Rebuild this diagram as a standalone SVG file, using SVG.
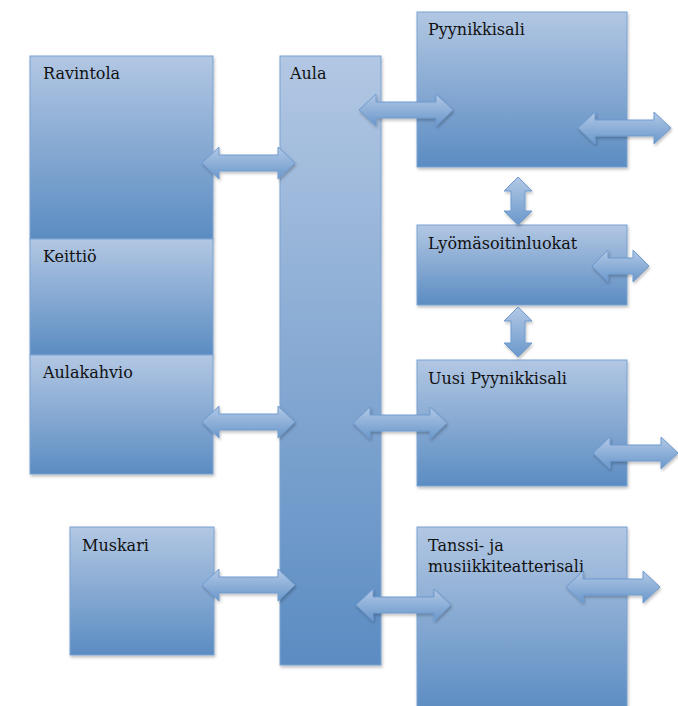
<svg xmlns="http://www.w3.org/2000/svg" width="678" height="706" viewBox="0 0 678 706">
<style>
.box{fill:url(#bg);stroke:#7aa2d2;stroke-width:1;filter:url(#sh)}
.arr{fill:url(#ag);stroke:#6f9bd0;stroke-width:1;stroke-linejoin:miter;filter:url(#sh)}
.lbl{font-family:"DejaVu Serif","Liberation Serif",serif;font-size:16px;fill:#111}
</style>
<defs>
<linearGradient id="bg" x1="0" y1="0" x2="0" y2="1">
<stop offset="0" stop-color="#b2c7e3"/>
<stop offset="1" stop-color="#5b8cc2"/>
</linearGradient>
<linearGradient id="ag" x1="0" y1="0" x2="0" y2="1">
<stop offset="0" stop-color="#b2c8e5"/>
<stop offset="1" stop-color="#6a98cb"/>
</linearGradient>
<filter id="sh" x="-10%" y="-10%" width="120%" height="120%">
<feDropShadow dx="1" dy="2" stdDeviation="1.5" flood-color="#000" flood-opacity="0.25"/>
</filter>
</defs>
<rect width="678" height="706" fill="#fff"/>
<g id="ravintola"><rect class="box" x="30" y="56" width="183" height="183"/><text class="lbl" x="43" y="79">Ravintola</text></g>
<g id="keittio"><rect class="box" x="30" y="239" width="183" height="116"/><text class="lbl" x="43" y="262">Keittiö</text></g>
<g id="aulakahvio"><rect class="box" x="30" y="355" width="183" height="119"/><text class="lbl" x="43" y="378">Aulakahvio</text></g>
<g id="muskari"><rect class="box" x="70" y="527" width="144" height="128"/><text class="lbl" x="82" y="551">Muskari</text></g>
<g id="aula"><rect class="box" x="280" y="56" width="101" height="609"/><text class="lbl" x="290" y="79">Aula</text></g>
<g id="pyynikkisali"><rect class="box" x="417" y="12" width="210" height="155"/><text class="lbl" x="428" y="35">Pyynikkisali</text></g>
<g id="lyomasoitinluokat"><rect class="box" x="417" y="225" width="210" height="80"/><text class="lbl" x="428" y="249">Lyömäsoitinluokat</text></g>
<g id="uusipyynikkisali"><rect class="box" x="417" y="360" width="210" height="126"/><text class="lbl" x="428" y="384">Uusi Pyynikkisali</text></g>
<g id="tanssi"><rect class="box" x="417" y="527" width="210" height="185"/><text class="lbl" x="428" y="551">Tanssi- ja</text><text class="lbl" x="428" y="572" textLength="156" lengthAdjust="spacingAndGlyphs">musiikkiteatterisali</text></g>
<g id="connectors">
<polygon class="arr" points="202,163 219,147 219,155 278,155 278,147 295,163 278,179 278,171 219,171 219,179"/>
<polygon class="arr" points="359,110 376,94 376,102 436,102 436,94 453,110 436,126 436,118 376,118 376,126"/>
<polygon class="arr" points="578,128 595,112 595,120 654,120 654,112 671,128 654,144 654,136 595,136 595,144"/>
<polygon class="arr" points="518,177 532,191 525,191 525,211 532,211 518,225 504,211 511,211 511,191 504,191"/>
<polygon class="arr" points="592,266 608,250 608,258 633,258 633,250 649,266 633,282 633,274 608,274 608,282"/>
<polygon class="arr" points="518,307 532,321 525,321 525,343 532,343 518,357 504,343 511,343 511,321 504,321"/>
<polygon class="arr" points="353,423 370,407 370,415 430,415 430,407 447,423 430,439 430,431 370,431 370,439"/>
<polygon class="arr" points="593,453 610,437 610,445 661,445 661,437 678,453 661,469 661,461 610,461 610,469"/>
<polygon class="arr" points="202,422 219,406 219,414 278,414 278,406 295,422 278,438 278,430 219,430 219,438"/>
<polygon class="arr" points="202,585 219,569 219,577 278,577 278,569 295,585 278,601 278,593 219,593 219,601"/>
<polygon class="arr" points="356,605 373,589 373,597 434,597 434,589 451,605 434,621 434,613 373,613 373,621"/>
<polygon class="arr" points="566,587 583,571 583,579 643,579 643,571 660,587 643,603 643,595 583,595 583,603"/>
</g>
</svg>
